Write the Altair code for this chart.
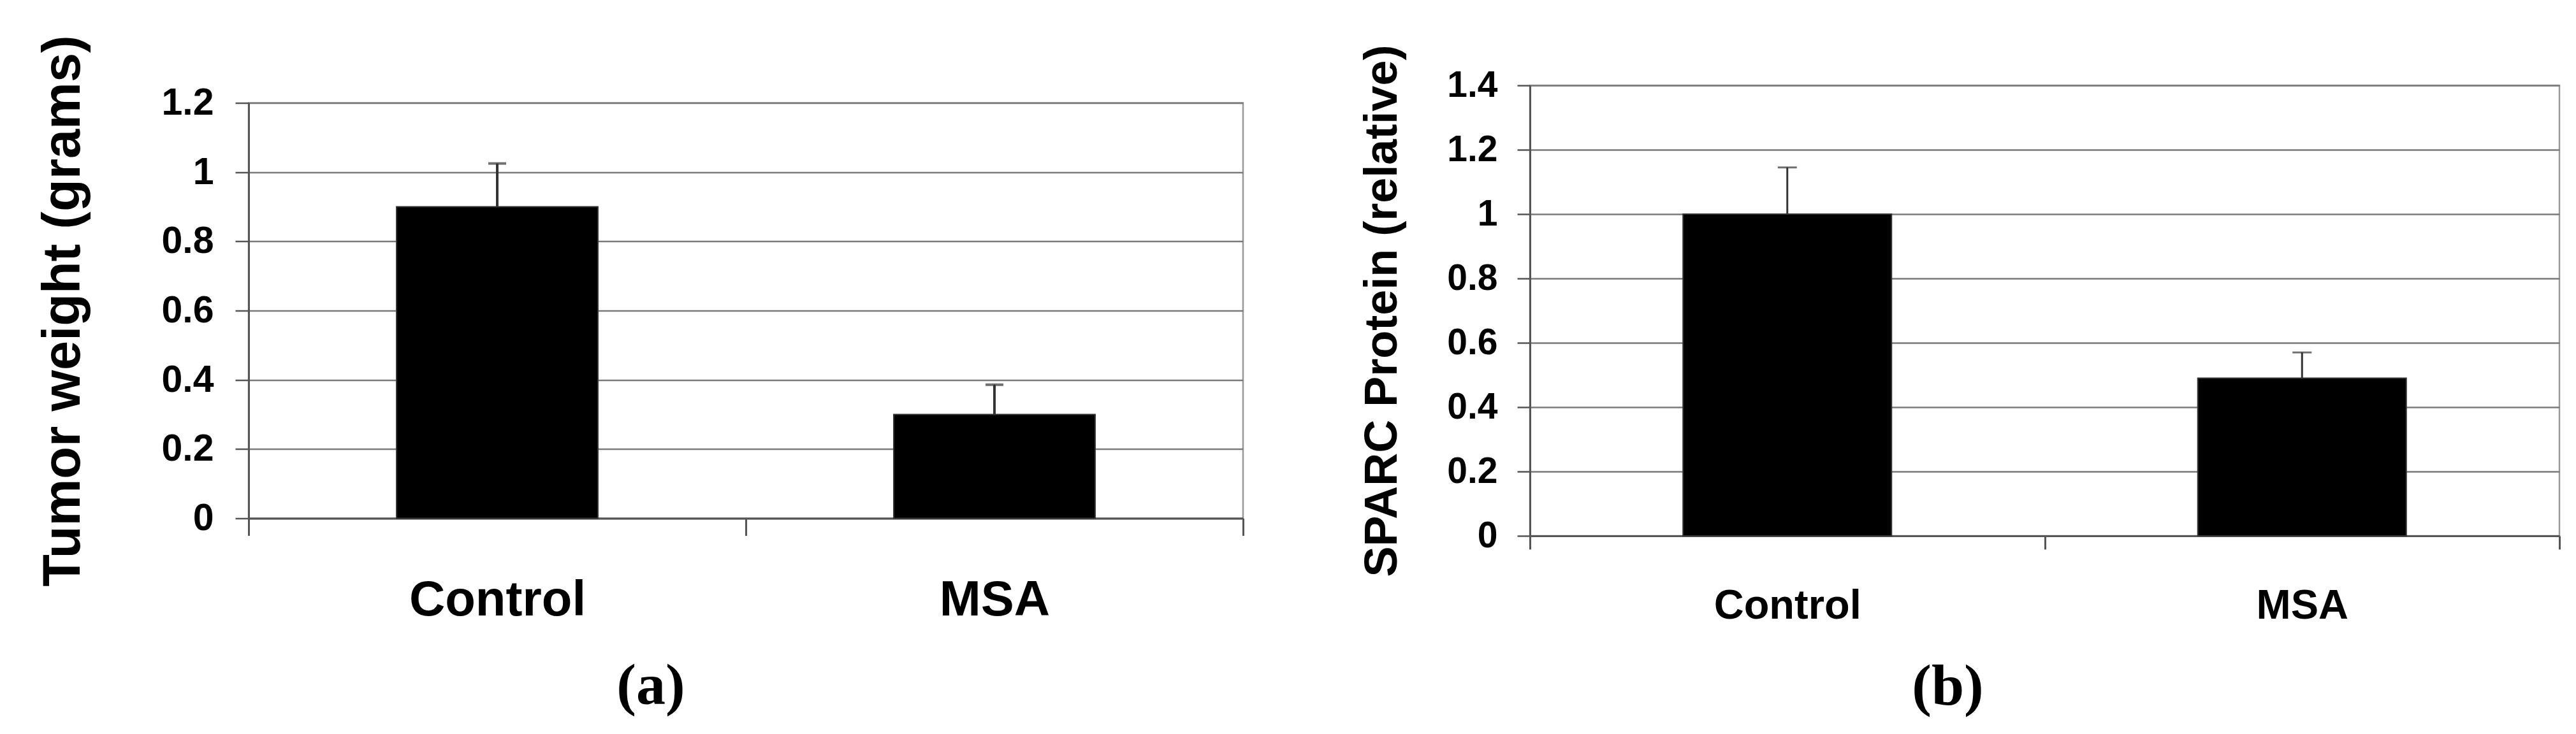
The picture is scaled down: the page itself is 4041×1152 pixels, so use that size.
import altair as alt
import pandas as pd

groups = ["Control", "MSA"]

# Panel (a): tumor weight
tumor_weight = [0.90, 0.30]
tumor_err = [0.125, 0.086]
ticks_a = [0, 0.2, 0.4, 0.6, 0.8, 1.0, 1.2]

# Panel (b): SPARC protein
sparc = [1.00, 0.49]
sparc_err = [0.145, 0.08]
ticks_b = [0, 0.2, 0.4, 0.6, 0.8, 1.0, 1.2, 1.4]

SANS = "Liberation Sans"
SERIF = "Liberation Serif"
GRID = "#7a7a7a"
AXIS = "#555555"


def panel(values, errs, ticks, ymax, ytitle, label, W, H,
          ylab_fs, ytitle_fs, ytitle_pad, ytick, ylab_pad,
          xlab_fs, xtick, xlab_pad, sub_dx, sub_offset, cap, errw):
    df = pd.DataFrame({
        "group": groups,
        "value": values,
        "upper": [v + e for v, e in zip(values, errs)],
    })
    xaxis = alt.Axis(
        title=None, labelAngle=0, tickBand="extent", tickSize=xtick,
        labelPadding=xlab_pad, labelFont=SANS, labelFontSize=xlab_fs,
        labelFontWeight="bold", labelColor="black", labelLimit=0,
        domainColor=AXIS, domainWidth=3, tickColor=AXIS, tickWidth=3,
        grid=False,
    )
    yaxis = alt.Axis(
        values=ticks, title=ytitle, labelExpr="format(datum.value, '~g')",
        tickSize=ytick, labelPadding=ylab_pad, labelFont=SANS,
        labelFontSize=ylab_fs, labelFontWeight="bold", labelColor="black",
        titleFont=SANS, titleFontSize=ytitle_fs, titleFontWeight="bold",
        titleColor="black", titlePadding=ytitle_pad, titleLimit=0,
        domainColor=AXIS, domainWidth=3, tickColor=AXIS, tickWidth=2.5,
        grid=True, gridColor=GRID, gridWidth=2.5,
    )
    xs = alt.Scale(paddingInner=0, paddingOuter=0)
    ys = alt.Scale(domain=[0, ymax], nice=False, zero=True)
    x = alt.X("group:N", sort=groups, scale=xs, axis=xaxis)
    base = alt.Chart(df)
    bars = base.mark_bar(
        color="black", stroke="#333333", strokeWidth=2,
        width=alt.RelativeBandSize(0.405),
    ).encode(x=x, y=alt.Y("value:Q", scale=ys, axis=yaxis))
    stem = base.mark_rule(color="#333333", strokeWidth=errw).encode(
        x=x, y=alt.Y("value:Q", scale=ys, axis=yaxis), y2="upper:Q")
    caps = base.mark_tick(color="#333333", thickness=errw, size=cap,
                          orient="horizontal").encode(
        x=x, y=alt.Y("upper:Q", scale=ys, axis=yaxis))
    return alt.layer(bars, stem, caps).properties(
        width=W, height=H,
        title=alt.TitleParams(
            text=label, orient="bottom", anchor="middle", frame="group",
            dx=sub_dx, offset=sub_offset, font=SERIF, fontSize=92,
            fontWeight="bold", color="black",
        ),
    )


a = panel(tumor_weight, tumor_err, ticks_a, 1.2, "Tumor weight (grams)", "(a)",
          1560, 652, 59, 83, 111, 21, 34, 78, 27, 63, -149, 50, 28, 4)
b = panel(sparc, sparc_err, ticks_b, 1.4, "SPARC Protein (relative)", "(b)",
          1615, 707, 57, 72, 64, 20, 31, 65, 21, 57, -152, 50, 30, 3)

chart = alt.hconcat(a, b, spacing=450, bounds="flush", center=True).configure_view(
    stroke="#999999", strokeWidth=2.5
).properties(
    padding={"left": 49, "top": 45, "right": 5, "bottom": 5},
    background="white",
)

chart.save("out.html", embed_options={"renderer": "svg", "actions": False})
